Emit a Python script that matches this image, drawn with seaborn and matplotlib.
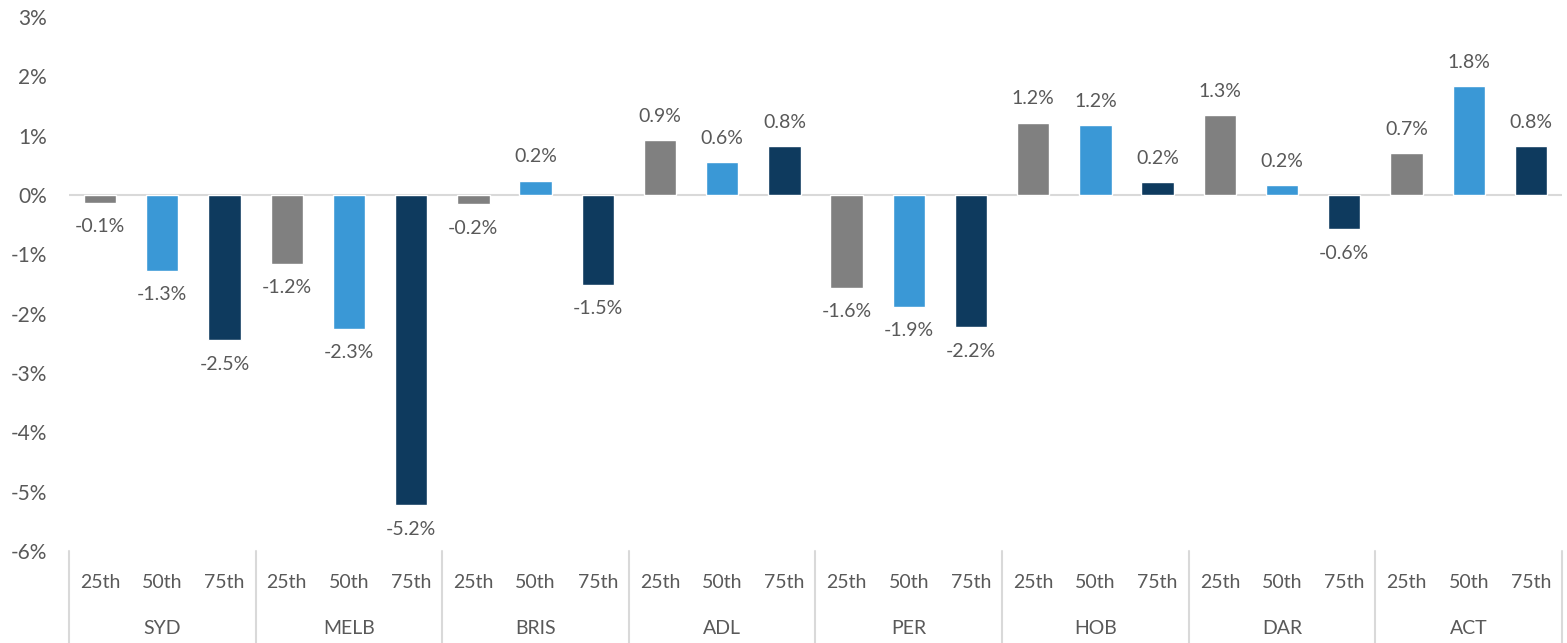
import numpy as np
import pandas as pd
import matplotlib.pyplot as plt
import seaborn as sns

cities = ['SYD', 'MELB', 'BRIS', 'ADL', 'PER', 'HOB', 'DAR', 'ACT']
pcts = ['25th', '50th', '75th']
p25 = [-0.13, -1.16, -0.16, 0.92, -1.57, 1.22, 1.34, 0.70]
p50 = [-1.28, -2.26, 0.24, 0.55, -1.88, 1.18, 0.17, 1.84]
p75 = [-2.45, -5.23, -1.52, 0.82, -2.23, 0.22, -0.58, 0.82]
colors = ['#808080', '#3a98d6', '#0e3a5e']
txt = '#595959'

rows = []
for i, c in enumerate(cities):
    for p, vals in zip(pcts, [p25, p50, p75]):
        rows.append({'bar': c + ' ' + p, 'city': c, 'pct': p, 'val': vals[i]})
df = pd.DataFrame(rows)

sns.set_style('white')
plt.rcParams['font.family'] = ['Lato', 'DejaVu Sans']

fig = plt.figure(figsize=(15.67, 6.43), dpi=100)
ax = fig.add_axes([69 / 1567, 1 - 551 / 643, 1493 / 1567, 534 / 643])

sns.barplot(data=df, x='bar', y='val', hue='pct', palette=colors,
            dodge=False, width=0.52, saturation=1, legend=False, ax=ax)

for cont in ax.containers:
    ax.bar_label(cont, labels=[f'{v:.1f}%' for v in cont.datavalues],
                 padding=11, fontsize=14, color=txt)

ax.set_ylim(-6, 3)
ax.set_xlim(-0.5, len(df) - 0.5)
ax.set_yticks(range(-6, 4))
ax.set_yticklabels([f'{t}%' for t in range(-6, 4)], fontsize=15, color=txt)
ax.tick_params(axis='y', length=0, pad=16)
ax.set_xticks([])
ax.set_xlabel('')
ax.set_ylabel('')
for s in ax.spines.values():
    s.set_visible(False)
ax.axhline(0, color='#d9d9d9', lw=1.5, zorder=0)

trans = ax.get_xaxis_transform()
for k in range(len(cities) + 1):
    x = k * 3 - 0.5
    ax.plot([x, x], [0, -92 / 534], transform=trans, color='#d9d9d9',
            lw=1.5, clip_on=False)
for j, row in df.iterrows():
    ax.text(j, -32 / 534, row['pct'], transform=trans, ha='center',
            va='center', fontsize=14, color=txt)
for i, c in enumerate(cities):
    ax.text(i * 3 + 1, -77 / 534, c, transform=trans, ha='center',
            va='center', fontsize=14, color=txt)

fig.savefig('out.png', dpi=100)
